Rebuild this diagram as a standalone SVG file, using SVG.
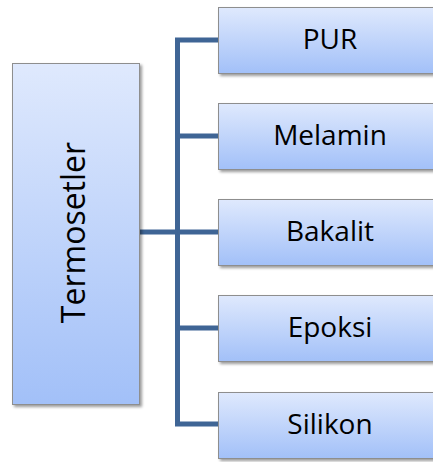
<svg xmlns="http://www.w3.org/2000/svg" width="433" height="462" viewBox="0 0 433 462">
<defs>
<linearGradient id="g" x1="0" y1="0" x2="0" y2="1">
<stop offset="0" stop-color="#dfe9fd"/>
<stop offset="1" stop-color="#a2c0f8"/>
</linearGradient>
<filter id="sh" x="-10%" y="-10%" width="130%" height="130%">
<feGaussianBlur in="SourceAlpha" stdDeviation="1.5"/>
<feOffset dx="2" dy="2" result="b"/>
<feComponentTransfer><feFuncA type="linear" slope="0.4"/></feComponentTransfer>
<feMerge><feMergeNode/><feMergeNode in="SourceGraphic"/></feMerge>
</filter>
</defs>
<style>
.box{fill:url(#g);stroke:#8e8e8e;stroke-width:1;filter:url(#sh)}
.t{font-family:"Open Sans","Liberation Sans",sans-serif;font-size:28px;fill:#000;text-anchor:middle}
.c{fill:none;stroke:#3f6595;stroke-width:5}
</style>
<rect width="433" height="462" fill="#fff"/>
<g id="connectors">
<path class="c" d="M139,232 H177.5"/>
<path class="c" d="M218,40 H177.5 V424 H218"/>
<path class="c" d="M177.5,136 H218 M177.5,232 H218 M177.5,328 H218"/>
</g>
<g id="termosetler">
<rect class="box" x="12.5" y="63.5" width="127" height="341"/>
<text class="t" transform="translate(85,232.5) rotate(-90)" style="font-size:32px">Termosetler</text>
</g>
<g id="pur"><rect class="box" x="218.5" y="7.5" width="230" height="66"/><text class="t" x="330" y="49">PUR</text></g>
<g id="melamin"><rect class="box" x="218.5" y="103.5" width="230" height="66"/><text class="t" x="330" y="145">Melamin</text></g>
<g id="bakalit"><rect class="box" x="218.5" y="199.5" width="230" height="66"/><text class="t" x="330" y="241">Bakalit</text></g>
<g id="epoksi"><rect class="box" x="218.5" y="295.5" width="230" height="66"/><text class="t" x="330" y="337">Epoksi</text></g>
<g id="silikon"><rect class="box" x="218.5" y="392.5" width="230" height="66"/><text class="t" x="330" y="434">Silikon</text></g>
</svg>
